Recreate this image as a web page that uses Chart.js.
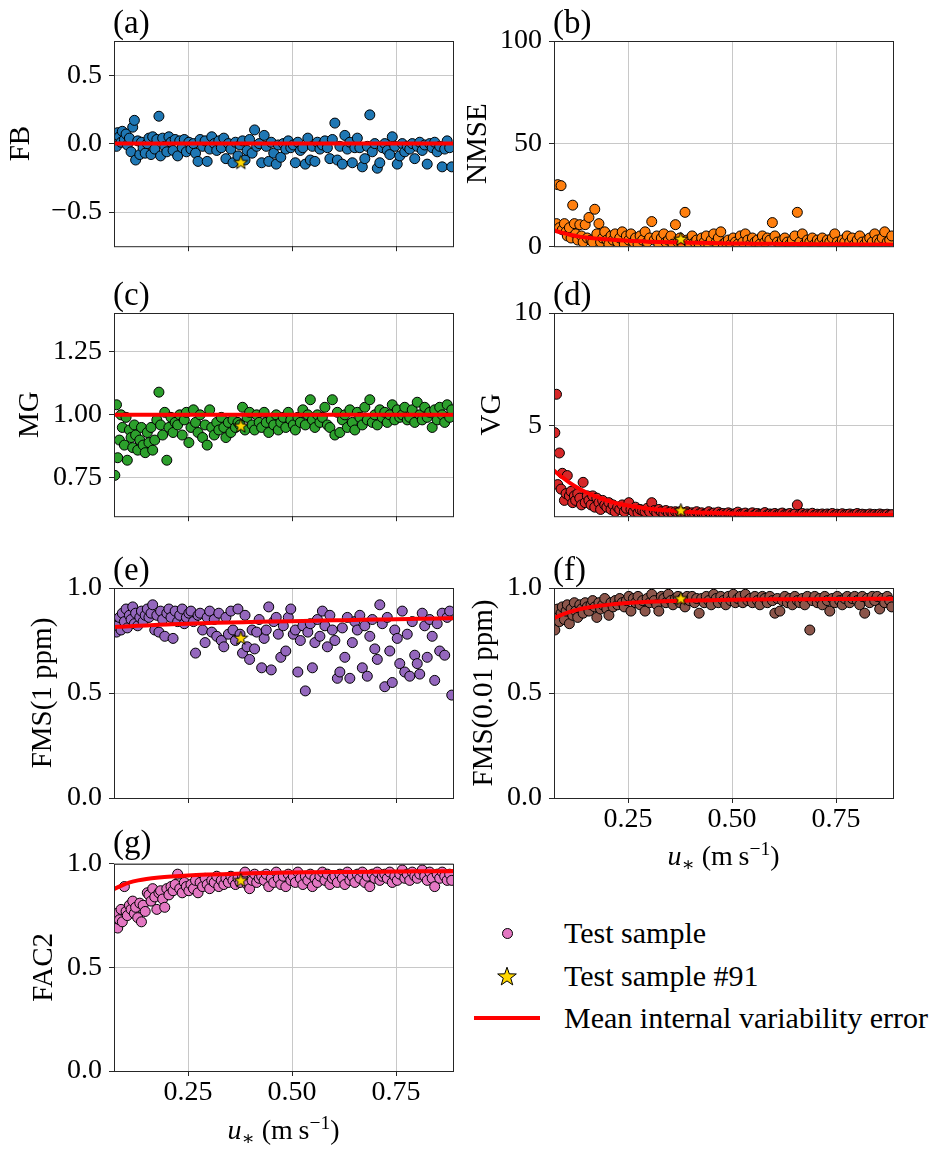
<!DOCTYPE html>
<html><head><meta charset="utf-8">
<script src="https://cdn.jsdelivr.net/npm/chart.js@4.4.1/dist/chart.umd.min.js"></script>
<style>
html,body{margin:0;padding:0;background:#fff;}
body{width:940px;height:1151px;position:relative;overflow:hidden;font-family:'Liberation Serif','DejaVu Serif',serif;color:#000;}
canvas.pc{position:absolute;}
.pl{position:absolute;font-size:33px;line-height:1;white-space:nowrap;}
.xt{position:absolute;font-size:28px;line-height:1;text-align:center;white-space:nowrap;}
.xt sub{font-size:0.7em;vertical-align:-0.3em;line-height:0;}
.xt sup{font-size:0.7em;vertical-align:0.5em;line-height:0;}
.lt{position:absolute;left:564px;font-size:30px;line-height:1;white-space:nowrap;}
</style></head><body>
<div id="root"></div>
<script>
// ---------------- data ----------------
const U_STAR = [
0.074,0.078,0.081,0.085,0.089,0.092,0.097,0.101,0.104,0.109,
0.113,0.117,0.121,0.124,0.129,0.134,0.138,0.142,0.147,0.152,
0.156,0.161,0.165,0.170,0.175,0.180,0.184,0.189,0.194,0.199,
0.204,0.209,0.214,0.219,0.225,0.230,0.236,0.241,0.246,0.252,
0.257,0.263,0.268,0.274,0.279,0.285,0.291,0.296,0.302,0.307,
0.313,0.319,0.324,0.330,0.336,0.341,0.347,0.353,0.358,0.364,
0.370,0.375,0.381,0.387,0.392,0.398,0.404,0.410,0.415,0.421,
0.427,0.433,0.438,0.444,0.450,0.456,0.462,0.467,0.473,0.479,
0.485,0.491,0.497,0.503,0.508,0.514,0.520,0.526,0.532,0.538,
0.544,0.549,0.555,0.561,0.567,0.573,0.579,0.585,0.591,0.597,
0.603,0.609,0.615,0.621,0.627,0.633,0.639,0.645,0.651,0.657,
0.663,0.669,0.675,0.681,0.687,0.693,0.699,0.705,0.711,0.717,
0.723,0.729,0.735,0.741,0.747,0.753,0.759,0.765,0.771,0.777,
0.783,0.789,0.795,0.801,0.807,0.813,0.819,0.825,0.831,0.837,
0.843,0.849,0.855,0.861,0.867,0.873,0.879,0.884];

const FB = [
0.03,-0.02,0.08,0.05,0.01,0.09,0.03,0.07,-0.01,0.04,
-0.06,0.12,0.17,-0.12,0.02,-0.08,0.01,-0.03,-0.07,0.00,
0.04,-0.08,0.05,-0.04,0.03,0.20,-0.09,0.04,-0.02,-0.06,
0.05,0.01,-0.05,0.03,-0.09,0.02,-0.03,0.03,-0.06,0.01,
-0.04,0.00,-0.07,-0.13,0.03,-0.02,0.02,-0.13,-0.04,0.05,
0.00,-0.05,0.02,-0.03,0.04,-0.11,0.00,-0.04,-0.14,0.01,
-0.09,-0.01,0.02,-0.12,-0.05,0.03,-0.07,0.10,-0.02,0.00,
-0.14,0.06,-0.02,-0.13,0.01,-0.07,-0.15,-0.01,-0.10,0.00,
-0.04,0.02,-0.03,-0.01,-0.14,0.01,-0.05,-0.03,-0.15,0.04,
-0.12,-0.02,-0.13,0.01,-0.04,-0.01,0.02,-0.03,-0.11,0.03,
0.15,-0.12,-0.02,-0.15,0.06,-0.04,0.01,-0.14,-0.03,0.04,
-0.03,-0.17,-0.11,-0.02,0.21,-0.06,0.00,-0.18,-0.14,-0.03,
0.00,-0.05,-0.08,0.05,-0.02,-0.15,-0.09,0.00,-0.06,-0.02,
-0.04,0.00,-0.11,-0.02,0.01,-0.05,-0.01,-0.15,0.00,-0.03,
0.01,-0.06,-0.02,-0.17,-0.04,0.02,-0.03,-0.17];

const NMSE = [
10,11,30,9,29.5,8,11,7,5,9,
4,20,11,6,3,10.5,5,2,10.5,4,
14,3,2,18,6,11,2,4,7,3,
1,5,3,6,2,4,7,1,5,3,
6,2,4,1,5,3,7,2,4,12,
3,5,1,4,6,2,3,5,1,10.5,
2,4,1,16.5,3,1,5,2,3,1,
4,2,5,1,3,6,2,4,7,1,
2,3,1,4,2,1,5,2,6,3,
1,4,2,3,1,5,2,4,3,11.5,
5,2,1,3,4,2,1,3,5,16.5,
2,6,1,3,2,4,1,3,2,4,
1,3,2,4,6,2,1,3,2,5,
2,4,1,3,5,2,1,3,4,2,
6,3,2,4,7,2,3,5];

const MG = [
0.76,1.04,0.83,0.90,1.00,0.95,0.88,0.99,0.82,0.94,
0.91,0.87,0.96,0.92,0.86,0.90,0.95,0.88,0.85,0.93,
0.89,0.95,0.86,0.90,0.98,1.09,0.96,0.92,1.01,0.82,
0.95,0.99,0.93,0.97,0.96,1.00,0.92,0.98,1.01,0.89,
0.95,1.02,0.97,0.93,1.00,0.91,0.96,0.88,1.02,0.95,
0.92,0.97,0.94,0.99,0.95,0.91,0.97,0.93,0.98,0.95,
0.97,0.96,1.03,0.94,0.99,1.01,0.96,0.94,1.00,0.97,
0.95,1.01,0.97,0.93,0.98,0.96,1.00,0.94,0.97,0.99,
0.95,1.01,0.98,0.96,0.94,0.99,0.97,1.02,0.96,1.00,
1.06,0.98,0.95,1.00,0.97,0.99,1.03,0.96,0.95,1.06,
0.92,1.01,0.93,0.98,1.00,0.95,1.02,0.97,0.94,1.01,
0.99,0.96,1.03,0.98,1.06,0.97,1.00,0.96,1.02,0.99,
1.01,0.97,1.00,1.04,0.98,1.02,0.99,1.00,1.03,0.98,
0.99,1.02,0.97,1.05,1.00,0.98,1.03,0.99,1.01,0.95,
1.02,0.98,1.03,1.00,0.97,1.04,0.99,1.02];

const VG = [
4.7,6.4,2.4,3.8,2.2,2.9,1.7,2.0,2.8,1.9,
2.1,1.6,1.9,1.7,2.0,1.8,1.5,2.5,1.6,1.9,
1.7,1.5,1.9,1.4,1.8,1.6,1.3,1.7,1.5,1.4,
1.6,1.3,1.5,1.2,1.4,1.3,1.5,1.2,1.35,1.6,
1.3,1.2,1.4,1.15,1.3,1.25,1.2,1.35,1.2,1.6,
1.25,1.15,1.3,1.2,1.1,1.25,1.15,1.2,1.1,1.2,
1.15,1.2,1.1,1.15,1.2,1.1,1.15,1.12,1.2,1.1,
1.15,1.08,1.12,1.2,1.1,1.14,1.08,1.18,1.1,1.12,
1.08,1.15,1.1,1.06,1.12,1.18,1.08,1.1,1.14,1.06,
1.1,1.15,1.07,1.12,1.08,1.1,1.16,1.06,1.1,1.08,
1.12,1.06,1.1,1.14,1.07,1.09,1.12,1.06,1.1,1.5,
1.08,1.12,1.06,1.1,1.08,1.13,1.05,1.09,1.07,1.1,
1.06,1.1,1.08,1.12,1.05,1.09,1.07,1.11,1.06,1.08,
1.1,1.05,1.08,1.12,1.06,1.09,1.07,1.05,1.1,1.06,
1.08,1.05,1.1,1.07,1.06,1.09,1.05,1.07];

const FMS_1PPM = [
0.84,0.79,0.82,0.86,0.80,0.88,0.84,0.90,0.81,0.87,
0.85,0.91,0.83,0.88,0.82,0.86,0.89,0.84,0.87,0.90,
0.86,0.88,0.92,0.80,0.87,0.79,0.89,0.85,0.77,0.88,
0.90,0.86,0.76,0.89,0.84,0.87,0.90,0.83,0.86,0.88,
0.89,0.84,0.69,0.87,0.88,0.80,0.74,0.86,0.89,0.79,
0.85,0.77,0.88,0.75,0.72,0.86,0.78,0.89,0.80,0.75,
0.90,0.78,0.69,0.87,0.72,0.66,0.80,0.71,0.79,0.85,
0.62,0.76,0.80,0.91,0.61,0.84,0.86,0.78,0.67,0.82,
0.70,0.86,0.90,0.78,0.80,0.60,0.75,0.82,0.51,0.79,
0.83,0.62,0.74,0.85,0.77,0.89,0.82,0.72,0.87,0.80,
0.75,0.57,0.60,0.81,0.67,0.86,0.57,0.74,0.84,0.80,
0.87,0.62,0.82,0.58,0.77,0.85,0.71,0.66,0.92,0.83,
0.53,0.86,0.70,0.55,0.80,0.76,0.64,0.89,0.60,0.78,
0.58,0.84,0.68,0.64,0.59,0.88,0.82,0.67,0.85,0.77,
0.56,0.83,0.70,0.88,0.68,0.86,0.89,0.49];

const FMS_001PPM = [
0.80,0.87,0.90,0.84,0.88,0.91,0.85,0.89,0.92,0.83,
0.90,0.87,0.93,0.89,0.86,0.92,0.90,0.88,0.93,0.91,
0.89,0.92,0.94,0.91,0.86,0.93,0.90,0.92,0.95,0.90,
0.87,0.93,0.91,0.94,0.92,0.95,0.93,0.91,0.94,0.96,
0.89,0.95,0.93,0.96,0.92,0.94,0.89,0.95,0.93,0.97,
0.94,0.92,0.89,0.96,0.95,0.93,0.97,0.94,0.92,0.95,
0.96,0.93,0.95,0.91,0.96,0.94,0.96,0.93,0.95,0.88,
0.95,0.93,0.96,0.94,0.92,0.97,0.95,0.93,0.96,0.94,
0.92,0.96,0.94,0.97,0.93,0.95,0.96,0.93,0.97,0.94,
0.95,0.93,0.96,0.94,0.92,0.96,0.95,0.93,0.96,0.94,
0.88,0.95,0.89,0.94,0.96,0.93,0.95,0.92,0.96,0.94,
0.93,0.95,0.92,0.96,0.80,0.94,0.96,0.93,0.95,0.92,
0.96,0.94,0.89,0.95,0.93,0.96,0.94,0.92,0.95,0.96,
0.93,0.95,0.96,0.94,0.92,0.96,0.88,0.95,0.93,0.96,
0.94,0.96,0.90,0.95,0.93,0.96,0.94,0.91];

const FAC2 = [
0.70,0.76,0.69,0.73,0.78,0.72,0.89,0.77,0.75,0.80,
0.78,0.82,0.76,0.79,0.74,0.81,0.72,0.80,0.77,0.86,
0.85,0.82,0.88,0.84,0.78,0.86,0.87,0.83,0.79,0.88,
0.85,0.89,0.87,0.90,0.95,0.88,0.86,0.91,0.89,0.87,
0.90,0.88,0.92,0.86,0.91,0.89,0.93,0.90,0.88,0.92,
0.91,0.94,0.89,0.92,0.90,0.93,0.91,0.94,0.92,0.90,
0.93,0.91,0.94,0.96,0.90,0.88,0.92,0.95,0.91,0.93,
0.94,0.92,0.95,0.89,0.93,0.91,0.96,0.93,0.90,0.94,
0.89,0.95,0.92,0.94,0.91,0.96,0.93,0.90,0.94,0.92,
0.95,0.89,0.93,0.91,0.94,0.96,0.92,0.95,0.90,0.93,
0.94,0.91,0.95,0.93,0.90,0.96,0.92,0.94,0.91,0.95,
0.93,0.96,0.91,0.94,0.89,0.95,0.93,0.96,0.92,0.94,
0.95,0.93,0.96,0.91,0.94,0.92,0.95,0.97,0.93,0.95,
0.92,0.96,0.94,0.93,0.95,0.97,0.94,0.92,0.96,0.93,
0.89,0.95,0.93,0.96,0.94,0.92,0.95,0.92];

// mean internal variability error curves
const LINE_X = [0.07,0.09,0.11,0.13,0.15,0.18,0.21,0.25,0.30,0.35,0.40,0.45,0.50,0.55,0.60,0.65,0.70,0.75,0.80,0.85,0.89];
const FB_MEAN   = [0,0,0,0,0,0,0,0,0,0,0,0,0,0,0,0,0,0,0,0,0];
const NMSE_MEAN = [7.8,6.6,5.6,4.8,4.2,3.6,3.1,2.6,2.2,1.9,1.7,1.5,1.35,1.25,1.15,1.05,0.95,0.9,0.85,0.8,0.75];
const MG_MEAN   = [1,1,1,1,1,1,1,1,1,1,1,1,1,1,1,1,1,1,1,1,1];
const VG_MEAN   = [3.05,2.75,2.48,2.25,2.05,1.82,1.63,1.47,1.33,1.25,1.19,1.15,1.12,1.10,1.09,1.08,1.07,1.065,1.06,1.055,1.05];
const FMS_1PPM_MEAN   = [0.814,0.816,0.818,0.820,0.822,0.825,0.827,0.830,0.833,0.836,0.838,0.840,0.842,0.844,0.846,0.848,0.850,0.851,0.853,0.855,0.856];
const FMS_001PPM_MEAN = [0.855,0.872,0.886,0.897,0.906,0.915,0.922,0.929,0.934,0.938,0.940,0.942,0.944,0.945,0.946,0.947,0.947,0.948,0.948,0.949,0.949];
const FAC2_MEAN = [0.876,0.895,0.910,0.920,0.927,0.934,0.939,0.944,0.948,0.951,0.954,0.956,0.958,0.959,0.960,0.961,0.962,0.963,0.964,0.964,0.965];

// test sample #91
const SAMPLE91_X = 0.377;
const SAMPLE91_FB = -0.14, SAMPLE91_NMSE = 3.3, SAMPLE91_MG = 0.955, SAMPLE91_VG = 1.24,
      SAMPLE91_FMS1 = 0.76, SAMPLE91_FMS001 = 0.948, SAMPLE91_FAC2 = 0.918;

// ticks
const X_MIN = 0.072, X_MAX = 0.887;
const X_TICKS = [0.25, 0.5, 0.75];
const X_TICK_LABELS = ['0.25', '0.50', '0.75'];
const FB_TICKS = [-0.5, 0, 0.5],      FB_TICK_LABELS = ['\u22120.5', '0.0', '0.5'];
const NMSE_TICKS = [0, 50, 100],      NMSE_TICK_LABELS = ['0', '50', '100'];
const MG_TICKS = [0.75, 1.0, 1.25],   MG_TICK_LABELS = ['0.75', '1.00', '1.25'];
const VG_TICKS = [5, 10],             VG_TICK_LABELS = ['5', '10'];
const FRAC_TICKS = [0, 0.5, 1.0],     FRAC_TICK_LABELS = ['0.0', '0.5', '1.0'];

// ---------------- drawing ----------------
const FONT = "'Liberation Serif', 'DejaVu Serif', serif";
Chart.defaults.font.family = FONT;
Chart.defaults.color = '#000';

function starImage(size, fill) {
  const c = document.createElement('canvas');
  c.width = size; c.height = size;
  const g = c.getContext('2d');
  const cx = size / 2, cy = size / 2, R = size / 2 - 1.2, r = R * 0.4;
  g.beginPath();
  for (let i = 0; i < 10; i++) {
    const a = -Math.PI / 2 + i * Math.PI / 5;
    const rr = (i % 2) ? r : R;
    g.lineTo(cx + rr * Math.cos(a), cy + rr * Math.sin(a));
  }
  g.closePath();
  g.fillStyle = fill; g.fill();
  g.lineWidth = 1; g.strokeStyle = '#000'; g.lineJoin = 'miter'; g.stroke();
  return c;
}
const STAR_IMG = starImage(17, '#ffd700');

const framePlugin = {
  id: 'frame',
  afterDatasetsDraw(chart) {
    const {ctx, chartArea: a} = chart;
    ctx.save();
    ctx.strokeStyle = '#262626';
    ctx.lineWidth = 1;
    ctx.strokeRect(a.left + 0.5, a.top + 0.5, a.right - a.left, a.bottom - a.top);
    ctx.restore();
  }
};

const root = document.getElementById('root');

function makePanel(p) {
  const cv = document.createElement('canvas');
  cv.className = 'pc';
  cv.width = p.w; cv.height = p.h;
  cv.style.left = p.left + 'px'; cv.style.top = p.top + 'px';
  cv.style.width = p.w + 'px'; cv.style.height = p.h + 'px';
  root.appendChild(cv);

  const pts = U_STAR.map((x, i) => ({x: x, y: p.y[i]}));
  const linePts = LINE_X.map((x, i) => ({x: x, y: p.line[i]}));

  new Chart(cv, {
    type: 'scatter',
    data: {
      datasets: [
        {label: 'Test sample', data: pts, backgroundColor: p.color, borderColor: '#000',
         borderWidth: 1, pointRadius: 5, pointHoverRadius: 5, order: 2, clip: 0},
        {type: 'line', label: 'Mean internal variability error', data: linePts,
         borderColor: '#ff0000', borderWidth: 4, pointRadius: 0, fill: false,
         tension: 0.3, cubicInterpolationMode: 'monotone', order: 1, clip: 0},
        {label: 'Test sample #91', data: [{x: SAMPLE91_X, y: p.star}], pointStyle: STAR_IMG,
         pointRadius: 8, order: 0, clip: 0}
      ]
    },
    options: {
      responsive: false, animation: false, devicePixelRatio: 1, events: [],
      layout: {padding: {left: 0, top: p.T, right: p.R, bottom: 0}, autoPadding: false},
      plugins: {legend: {display: false}, tooltip: {enabled: false}, title: {display: false}},
      scales: {
        x: {
          type: 'linear', min: X_MIN, max: X_MAX,
          afterBuildTicks: s => { s.ticks = X_TICKS.map(v => ({value: v})); },
          afterFit: s => { s.height = p.B; },
          ticks: {display: p.xlab, autoSkip: false, maxRotation: 0, padding: 3,
                  font: {family: FONT, size: 28, lineHeight: 1.0}, color: '#000',
                  callback: (v, i) => X_TICK_LABELS[i]},
          grid: {color: '#c8c8c8', lineWidth: 1, tickColor: '#262626', tickLength: 5, drawTicks: true},
          border: {display: false}
        },
        y: {
          type: 'linear', min: p.ymin, max: p.ymax,
          afterBuildTicks: s => { s.ticks = p.yt.map(v => ({value: v})); },
          afterFit: s => { s.width = p.L; },
          ticks: {autoSkip: false, padding: 7, font: {family: FONT, size: 28}, color: '#000',
                  callback: (v, i) => p.ytl[i]},
          grid: {color: '#c8c8c8', lineWidth: 1, tickColor: '#262626', tickLength: 5, drawTicks: true},
          border: {display: false},
          title: {display: true, text: p.title, font: {family: FONT, size: 29}, color: '#000',
                  padding: {top: p.tpad, bottom: 0}}
        }
      }
    },
    plugins: [framePlugin]
  });
}

const PANELS = [
  {left: 0,   top: 0,   w: 470, h: 270, L: 114, T: 41, R: 17, B: 19, y: FB,   line: FB_MEAN,   star: SAMPLE91_FB,
   ymin: -0.75, ymax: 0.75, yt: FB_TICKS, ytl: FB_TICK_LABELS, title: 'FB', tpad: 3.6, color: '#1f77b4', xlab: false},
  {left: 455, top: 0,   w: 485, h: 270, L: 99,  T: 41, R: 47, B: 19, y: NMSE, line: NMSE_MEAN, star: SAMPLE91_NMSE,
   ymin: 0, ymax: 100, yt: NMSE_TICKS, ytl: NMSE_TICK_LABELS, title: 'NMSE', tpad: 6.1, color: '#ff7f0e', xlab: false},
  {left: 0,   top: 270, w: 470, h: 270, L: 114, T: 43, R: 17, B: 16, y: MG,   line: MG_MEAN,   star: SAMPLE91_MG,
   ymin: 0.598, ymax: 1.404, yt: MG_TICKS, ytl: MG_TICK_LABELS, title: 'MG', tpad: 12.6, color: '#2ca02c', xlab: false},
  {left: 455, top: 270, w: 485, h: 270, L: 99,  T: 43, R: 47, B: 16, y: VG,   line: VG_MEAN,   star: SAMPLE91_VG,
   ymin: 1, ymax: 10, yt: VG_TICKS, ytl: VG_TICK_LABELS, title: 'VG', tpad: 20.1, color: '#d62728', xlab: false},
  {left: 0,   top: 540, w: 470, h: 300, L: 114, T: 48, R: 17, B: 42, y: FMS_1PPM, line: FMS_1PPM_MEAN, star: SAMPLE91_FMS1,
   ymin: 0, ymax: 1, yt: FRAC_TICKS, ytl: FRAC_TICK_LABELS, title: 'FMS(1 ppm)', tpad: 25.6, color: '#9467bd', xlab: false},
  {left: 455, top: 540, w: 485, h: 300, L: 99,  T: 48, R: 47, B: 42, y: FMS_001PPM, line: FMS_001PPM_MEAN, star: SAMPLE91_FMS001,
   ymin: 0, ymax: 1, yt: FRAC_TICKS, ytl: FRAC_TICK_LABELS, title: 'FMS(0.01 ppm)', tpad: 12, color: '#8c564b', xlab: true},
  {left: 0,   top: 840, w: 470, h: 311, L: 114, T: 21, R: 17, B: 80, y: FAC2, line: FAC2_MEAN, star: SAMPLE91_FAC2,
   ymin: 0, ymax: 1, yt: FRAC_TICKS, ytl: FRAC_TICK_LABELS, title: 'FAC2', tpad: 26.6, color: '#e377c2', xlab: true}
];
PANELS.forEach(makePanel);

// panel letters
const LETTERS = [['(a)',113,6],['(b)',553,6],['(c)',113,278],['(d)',553,278],['(e)',113,553],['(f)',553,553],['(g)',113,826]];
LETTERS.forEach(([t, x, y]) => {
  const d = document.createElement('div');
  d.className = 'pl'; d.textContent = t;
  d.style.left = x + 'px'; d.style.top = y + 'px';
  document.body.appendChild(d);
});

// x-axis titles
[[554, 842], [114, 1116]].forEach(([x, y]) => {
  const d = document.createElement('div');
  d.className = 'xt';
  d.style.left = x + 'px'; d.style.top = y + 'px'; d.style.width = '339px';
  d.innerHTML = '<i>u</i><sub>\u2217</sub> (m\u2009s<sup>\u22121</sup>)';
  document.body.appendChild(d);
});

// legend
(function () {
  const c = document.createElement('div');
  c.style.cssText = 'position:absolute;left:501.5px;top:927.5px;width:9px;height:9px;border-radius:50%;background:#e377c2;border:1px solid #000;';
  document.body.appendChild(c);
  const s = starImage(22, '#ffd700');
  s.style.cssText = 'position:absolute;left:496px;top:966px;width:22px;height:22px;';
  document.body.appendChild(s);
  const l = document.createElement('div');
  l.style.cssText = 'position:absolute;left:474px;top:1016px;width:66px;height:4px;background:#ff0000;';
  document.body.appendChild(l);
  [['Test sample', 918], ['Test sample #91', 961], ['Mean internal variability error', 1003]].forEach(([t, y]) => {
    const d = document.createElement('div');
    d.className = 'lt'; d.textContent = t; d.style.top = y + 'px';
    document.body.appendChild(d);
  });
})();
</script>
</body></html>
